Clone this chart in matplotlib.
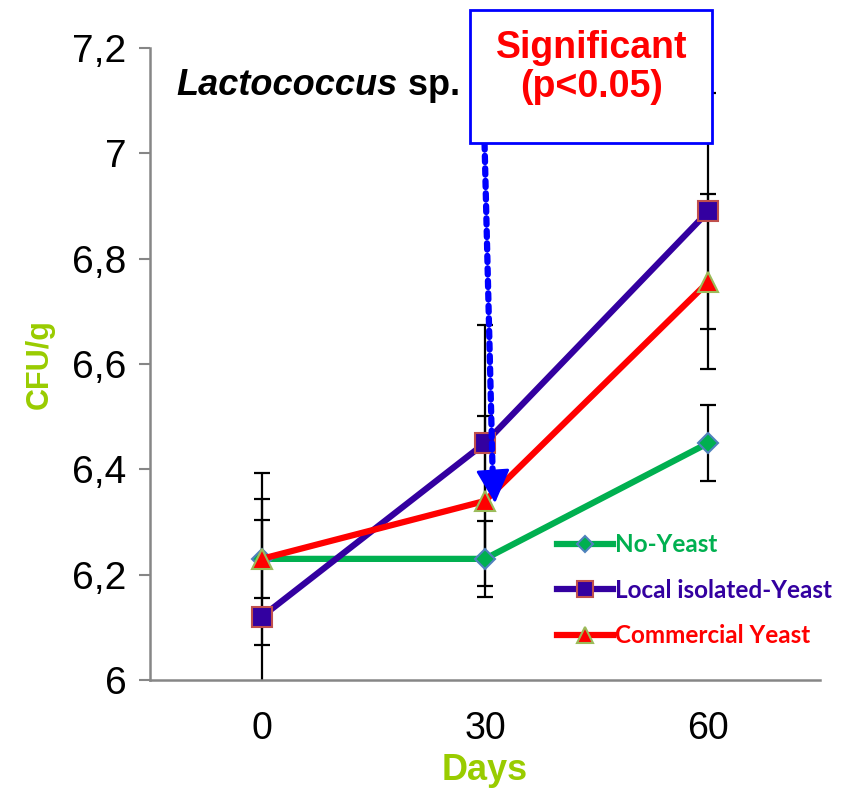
import matplotlib.pyplot as plt
import matplotlib.patches as mpatches
import numpy as np

plt.rcParams['font.family'] = ['Liberation Sans', 'DejaVu Sans']

# sampling days and mean counts (log CFU/g)
days = ['0', '30', '60']
no_yeast = [6.23, 6.23, 6.45]
no_yeast_err = [0.074, 0.072, 0.073]
local_yeast = [6.12, 6.45, 6.89]
local_yeast_err = [0.224, 0.224, 0.224]
commercial_yeast = [6.23, 6.34, 6.756]
commercial_yeast_err = [0.163, 0.162, 0.166]

x = np.arange(len(days))

fig = plt.figure(figsize=(8.44, 7.95), dpi=100)
ax = fig.add_axes([150 / 844, 115 / 795, 670 / 844, 632 / 795])

series = [
    ('No-Yeast', no_yeast, no_yeast_err, '#00B050', 'D', '#00B050', '#4F81BD', 10),
    ('Local isolated-Yeast', local_yeast, local_yeast_err, '#3300A0', 's', '#3300A0', '#C0504D', 14),
    ('Commercial Yeast', commercial_yeast, commercial_yeast_err, '#FF0000', '^', '#FF0000', '#9BBB59', 15),
]

for label, vals, err, color, marker, mfc, mec, ms in series:
    ax.errorbar(x, vals, yerr=err, fmt='none', ecolor='black', elinewidth=1.6,
                capsize=6, capthick=1.6, zorder=2)
for label, vals, err, color, marker, mfc, mec, ms in series:
    ax.plot(x, vals, color=color, lw=4.5, marker=marker, ms=ms, mfc=mfc, mec=mec,
            mew=1.5, label=label, zorder=3)

ax.set_xlim(-0.5, 2.5)
ax.set_ylim(6, 7.2)
ax.set_xticks(x)
ax.set_xticklabels(days)
yt = [6, 6.2, 6.4, 6.6, 6.8, 7, 7.2]
ax.set_yticks(yt)
ax.set_yticklabels([f'{v:g}'.replace('.', ',') for v in yt])
ax.tick_params(axis='y', labelsize=28, length=8, width=1.5, color='#868686', pad=9)
ax.tick_params(axis='x', labelsize=27, length=0, pad=22)

for s in ['top', 'right']:
    ax.spines[s].set_visible(False)
for s in ['left', 'bottom']:
    ax.spines[s].set_color('#868686')
    ax.spines[s].set_linewidth(1.8)

ax.set_ylabel('CFU/g', color='#99CC00', fontsize=22, fontweight='bold')
ax.yaxis.set_label_coords(-0.142, 0.5)
ax.set_xlabel('Days', color='#99CC00', fontsize=26, fontweight='bold')
ax.xaxis.set_label_coords(0.5, -0.115)

t1 = ax.text(0.04, 0.925, 'Lactococcus', transform=ax.transAxes, fontsize=26,
             fontweight='bold', fontstyle='italic', ha='left', va='baseline')
ax.annotate(' sp.', xy=(1, 0), xycoords=t1, fontsize=26, fontweight='bold',
            ha='left', va='bottom')

# significance box
box = mpatches.Rectangle((0.935, 7.0196), 1.083, 0.2524, transform=ax.transData,
                         clip_on=False, fc='white', ec='#0000FF', lw=2, zorder=5)
ax.add_patch(box)
ax.text(1.477, 7.163, 'Significant\n(p<0.05)', color='#FF0000', fontsize=27,
        fontweight='bold', ha='center', va='center', linespacing=1.1, zorder=6,
        clip_on=False)

# dotted arrow from the box down to day 30
ax.annotate('', xy=(1.035, 6.38), xytext=(0.998, 7.019),
            arrowprops=dict(arrowstyle='-', color='#0000FF', lw=4.5,
                            linestyle=(0, (1, 1)), shrinkA=0, shrinkB=0), zorder=4)
ax.annotate('', xy=(1.045, 6.336), xytext=(1.035, 6.40),
            arrowprops=dict(arrowstyle='-|>,head_length=0.55,head_width=0.28',
                            color='#0000FF', lw=2, mutation_scale=38,
                            shrinkA=0, shrinkB=0), zorder=4)

ax.legend(loc='upper left', bbox_to_anchor=(0.607, 0.232), frameon=False,
          prop=dict(family='Lato', weight='bold', size=17.5), labelcolor='linecolor',
          handlelength=2.3, handletextpad=0.1, labelspacing=0.92, markerscale=0.8,
          borderaxespad=0, borderpad=0)

fig.savefig('out.png', dpi=100)
